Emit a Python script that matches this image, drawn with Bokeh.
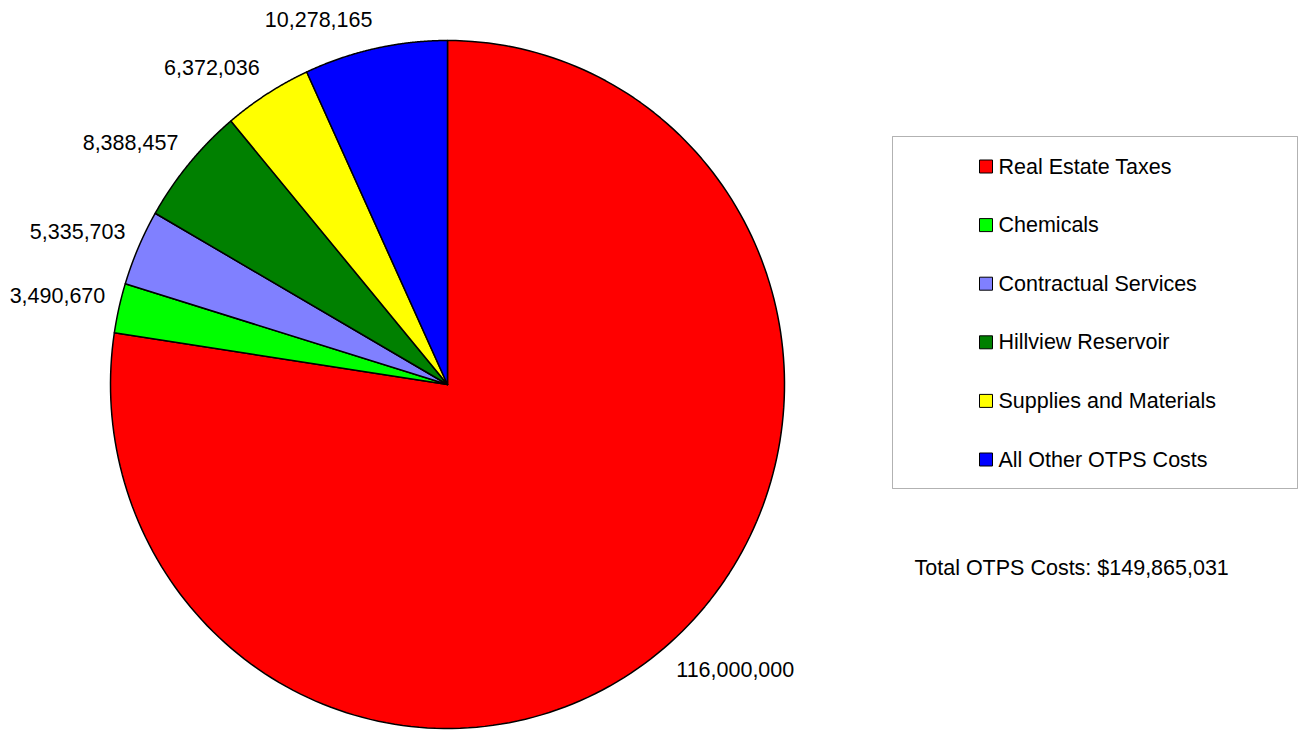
import numpy as np
from bokeh.plotting import figure
from bokeh.models import Range1d, BoxAnnotation
from bokeh.embed import file_html
from bokeh.resources import INLINE
from bokeh.core.properties import value

# ---- data ----
categories = ["Real Estate Taxes", "Chemicals", "Contractual Services",
              "Hillview Reservoir", "Supplies and Materials", "All Other OTPS Costs"]
amounts = [116000000, 3490670, 5335703, 8388457, 6372036, 10278165]
colors = ["#FF0000", "#00FF00", "#8080FF", "#008000", "#FFFF00", "#0000FF"]
total_text = "Total OTPS Costs: $149,865,031"

# ---- layout ----
W, H = 1304, 731
FONT = value("Liberation Sans")
FS = "21.5px"
cx, cy = 447, H - 384
rx, ry = 337, 344

p = figure(width=W, height=H, x_range=Range1d(0, W), y_range=Range1d(0, H),
           output_backend="svg", toolbar_location=None, min_border=0,
           x_axis_location=None, y_axis_location=None)
p.grid.visible = False
p.outline_line_color = None
p.background_fill_color = "white"
p.border_fill_color = "white"

vals = np.array(amounts, dtype=float)
frac = vals / vals.sum()
cum = np.concatenate([[0.0], np.cumsum(frac)])
theta = np.pi / 2 - 2 * np.pi * cum  # clockwise from 12 o'clock

xs, ys = [], []
lx, ly, lal, lbl, ltxt = [], [], [], [], []
gap_x, gap_y = 14, 22
for i in range(len(vals)):
    t = np.linspace(theta[i], theta[i + 1], 200)
    xs.append(np.concatenate([[cx], cx + rx * np.cos(t), [cx]]))
    ys.append(np.concatenate([[cy], cy + ry * np.sin(t), [cy]]))
    m = (theta[i] + theta[i + 1]) / 2
    c, s = np.cos(m), np.sin(m)
    lx.append(cx + rx * c + gap_x * c)
    ly.append(cy + ry * s + gap_y * s)
    lal.append("right" if c < 0 else "left")
    lbl.append("bottom" if s > 0 else "top")
    ltxt.append(f"{amounts[i]:,}")

p.patches(xs, ys, fill_color=colors, line_color="black", line_width=1.5,
          line_join="round")

for i in range(len(vals)):
    p.text(x=[lx[i]], y=[ly[i]], text=[ltxt[i]], text_font=FONT,
           text_font_size=FS, text_align=lal[i], text_baseline=lbl[i],
           text_color="black")

# legend frame
p.add_layout(BoxAnnotation(left=892, right=1297, top=H - 136, bottom=H - 488,
                           fill_alpha=0, line_color="black", line_width=1,
                           level="underlay"))
row0, step = 166, 58.6
ry_rows = [H - (row0 + i * step) for i in range(len(categories))]
p.scatter(x=[985.5] * len(categories), y=ry_rows, marker="square", size=13,
          fill_color=colors, line_color="black", line_width=1)
p.text(x=[998] * len(categories), y=ry_rows, text=categories, text_font=FONT,
       text_font_size=FS, text_align="left", text_baseline="middle",
       text_color="black")

p.text(x=[914], y=[H - 567], text=[total_text], text_font=FONT,
       text_font_size=FS, text_align="left", text_baseline="middle",
       text_color="black")

open("out.html", "w").write(file_html(p, INLINE))
